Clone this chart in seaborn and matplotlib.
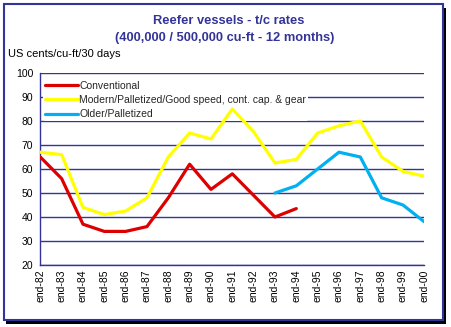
import matplotlib
matplotlib.use("Agg")
import matplotlib.pyplot as plt
import seaborn as sns
import pandas as pd
import numpy as np
from matplotlib.patches import Rectangle

years = ["end-82", "end-83", "end-84", "end-85", "end-86", "end-87", "end-88", "end-89", "end-90",
         "end-91", "end-92", "end-93", "end-94", "end-95", "end-96", "end-97", "end-98", "end-99", "end-00"]
conventional = [65, 56, 37, 34, 34, 36, 48, 62, 51.5, 58, 49, 40, 43.5,
                None, None, None, None, None, None]
modern = [67, 66, 44, 41, 42.5, 48, 65, 75, 72.5, 85, 75.5, 62.5, 64, 75, 78, 80, 65, 59, 57]
older = [None, None, None, None, None, None, None, None, None, None, None, 50, 53, 60, 67, 65, 48, 45, 38]
series_names = ["Conventional", "Modern/Palletized/Good speed, cont. cap. & gear", "Older/Palletized"]
colors = ["#DD0000", "#FFFF00", "#00B0F0"]

rows = []
for name, vals in zip(series_names, [conventional, modern, older]):
    for i, (y, v) in enumerate(zip(years, vals)):
        if v is not None:
            rows.append({"pos": i, "year": y, "value": v, "series": name})
df = pd.DataFrame(rows)

sns.set_theme(style="white")
plt.rcParams["font.family"] = ["Liberation Sans", "DejaVu Sans"]

navy = "#333399"
fig = plt.figure(figsize=(4.51, 3.27), dpi=100)
fig.patch.set_facecolor("white")

# border with shadow
fig.patches.append(Rectangle((6 / 451, 1 - 324 / 327), 440 / 451, 316 / 327,
                             transform=fig.transFigure, facecolor="black", edgecolor="none", zorder=0))
fig.patches.append(Rectangle((3.5 / 451, 1 - 319.5 / 327), 439.5 / 451, 315.5 / 327,
                             transform=fig.transFigure, facecolor="white", edgecolor=navy, linewidth=1.5, zorder=1))

ax = fig.add_axes([40.3 / 451, 1 - 265 / 327, 384 / 451, 192 / 327])
ax.set_facecolor("white")
ax.set_zorder(2)

sns.lineplot(data=df, x="pos", y="value", hue="series", hue_order=series_names,
             palette=colors, linewidth=2.3, ax=ax, legend=True, sort=True, zorder=3)

ax.set_xlim(0, len(years) - 1)
ax.set_ylim(20, 100)
ax.set_yticks(np.arange(20, 101, 10))
ax.set_xticks(range(len(years)))
ax.set_xticklabels(years, rotation=90, fontsize=7.5, color="black")
ax.tick_params(axis="y", labelsize=7.5, colors="black", length=3, width=1, color=navy, direction="out", pad=2)
ax.tick_params(axis="x", length=3, width=1, color=navy, direction="inout", pad=2)
ax.tick_params(axis="y", length=3, color=navy)
ax.yaxis.grid(True, color=navy, linewidth=1)
ax.set_axisbelow(True)
for s in ["top", "right"]:
    ax.spines[s].set_visible(False)
for s in ["left", "bottom"]:
    ax.spines[s].set_color(navy)
    ax.spines[s].set_linewidth(1)
ax.set_xlabel("")
ax.set_ylabel("")

leg = ax.legend(loc="upper left", bbox_to_anchor=(0.0, 0.985), frameon=True, fontsize=7.5,
                handlelength=3.2, handletextpad=0.1, labelspacing=0.42, borderpad=0.15,
                borderaxespad=0.3)
leg.get_frame().set_facecolor("white")
leg.get_frame().set_edgecolor("none")
leg.get_frame().set_alpha(1)
leg.set_zorder(2)
for line in leg.get_lines():
    line.set_linewidth(2.3)

fig.text(229 / 451, 1 - 21 / 327, "Reefer vessels - t/c rates", ha="center", va="center",
         fontsize=9.3, fontweight="bold", color=navy)
fig.text(224.5 / 451, 1 - 38 / 327, "(400,000 / 500,000 cu-ft - 12 months)", ha="center", va="center",
         fontsize=9.3, fontweight="bold", color=navy)
fig.text(8 / 451, 1 - 54 / 327, "US cents/cu-ft/30 days", ha="left", va="center",
         fontsize=8, color="black")

fig.savefig("out.png", dpi=100, facecolor="white")
